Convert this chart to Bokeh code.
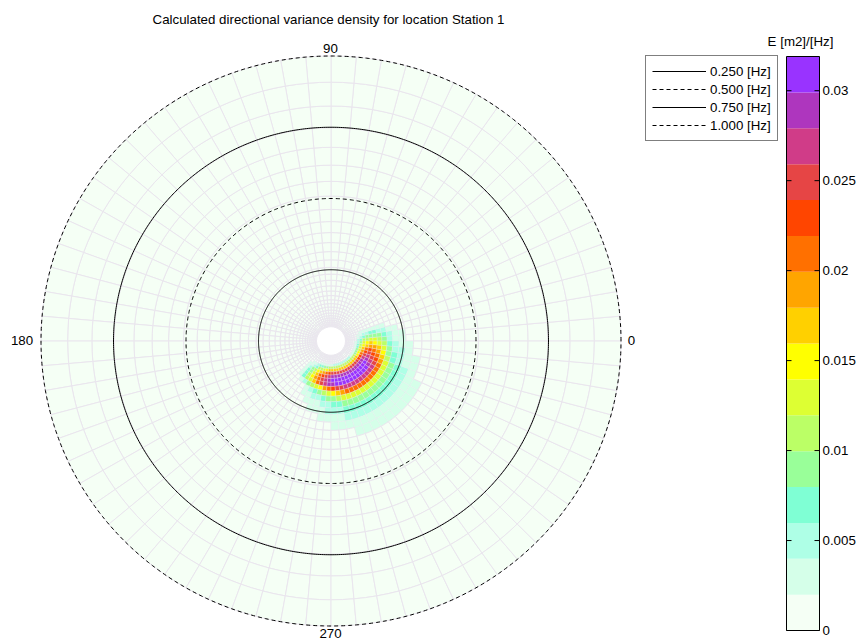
import numpy as np
from bokeh.plotting import figure
from bokeh.models import Range1d, Legend, LegendItem
from bokeh.embed import file_html
from bokeh.resources import INLINE
from bokeh.core.properties import value

# ---------------- data ----------------
TITLE = "Calculated directional variance density for location Station 1"
CB_TITLE = "E [m2]/[Hz]"

# frequency grid (Hz), cell edges
FREQ_EDGES = [0.0500, 0.0551, 0.0607, 0.0668, 0.0736, 0.0811, 0.0893, 0.0984,
              0.1083, 0.1193, 0.1314, 0.1448, 0.1595, 0.1756, 0.1935, 0.2131,
              0.2347, 0.2585, 0.2848, 0.3137, 0.3455, 0.3805, 0.4191, 0.4617,
              0.5085, 0.5601, 0.6170, 0.6796, 0.7485, 0.8245, 0.9081, 1.0000]
DIR_STEP = 5  # degrees (72 directional bins)

# energy density table, 1e-3 m2/Hz; rows = frequency cells 5..19,
# columns = direction bins starting at 220 deg, step 5 deg (32 bins: 220 .. 15)
TABLE_ROW_START = 5
TABLE_DIR_START = 220
E_TABLE = [
    [0.2, 0.5, 0.9, 1.3, 1.8, 2.3, 2.7, 3.1, 3.4, 3.7, 3.8, 4.0, 4.0, 4.0, 4.0, 4.0,
     4.0, 4.0, 4.0, 4.0, 3.9, 3.8, 3.6, 3.4, 3.1, 2.8, 2.4, 2.0, 1.6, 1.2, 0.8, 0.5],
    [0.7, 1.3, 2.4, 3.6, 5.0, 6.3, 7.5, 8.6, 9.5, 10.1, 10.6, 10.9, 11.0, 11.0, 11.0, 11.0,
     11.0, 11.0, 11.0, 11.0, 10.8, 10.5, 9.9, 9.2, 8.5, 7.6, 6.6, 5.5, 4.4, 3.3, 2.2, 1.3],
    [1.1, 2.1, 3.9, 5.8, 7.9, 10.0, 11.9, 13.7, 15.1, 16.1, 16.8, 17.3, 17.5, 17.5, 17.5, 17.5,
     17.5, 17.5, 17.5, 17.5, 17.2, 16.6, 15.8, 14.7, 13.5, 12.1, 10.5, 8.8, 7.0, 5.3, 3.5, 2.1],
    [1.5, 3.0, 5.5, 8.3, 11.3, 14.3, 17.0, 19.5, 21.5, 23.0, 24.0, 24.8, 25.0, 25.0, 25.0, 25.0,
     25.0, 25.0, 25.0, 25.0, 24.5, 23.8, 22.5, 21.0, 19.3, 17.3, 15.0, 12.5, 10.0, 7.5, 5.0, 3.0],
    [1.8, 3.5, 6.5, 9.7, 13.3, 16.8, 20.1, 23.0, 25.4, 27.1, 28.3, 29.2, 29.5, 29.5, 29.5, 29.5,
     29.5, 29.5, 29.5, 29.5, 28.9, 28.0, 26.6, 24.8, 22.7, 20.4, 17.7, 14.8, 11.8, 8.9, 5.9, 3.5],
    [1.9, 3.8, 7.0, 10.5, 14.4, 18.2, 21.7, 24.9, 27.4, 29.3, 30.6, 31.6, 31.7, 31.8, 31.9, 31.9,
     31.9, 31.8, 31.8, 31.7, 31.3, 30.3, 28.7, 26.8, 24.6, 22.0, 19.1, 16.0, 12.8, 9.6, 6.4, 3.8],
    [1.8, 3.7, 6.8, 10.2, 13.9, 17.6, 20.9, 24.0, 26.5, 28.3, 29.6, 30.5, 30.8, 30.8, 30.8, 30.8,
     30.8, 30.8, 30.8, 30.8, 30.2, 29.3, 27.7, 25.9, 23.7, 21.3, 18.5, 15.4, 12.3, 9.2, 6.2, 3.7],
    [0.8, 1.6, 3.6, 5.7, 8.1, 10.7, 13.2, 15.9, 18.4, 20.5, 22.7, 24.4, 25.7, 26.5, 27.0, 27.0,
     27.0, 27.0, 27.0, 27.0, 26.7, 26.1, 25.0, 23.5, 21.5, 19.0, 16.2, 13.8, 11.1, 8.4, 5.7, 3.0],
    [0.0, 0.0, 1.1, 1.9, 3.2, 4.6, 6.3, 8.4, 10.5, 12.6, 15.1, 17.2, 18.9, 20.2, 21.0, 21.0,
     21.0, 21.0, 21.0, 21.0, 21.0, 20.6, 20.0, 18.9, 17.2, 15.1, 12.6, 10.9, 8.8, 6.7, 4.6, 2.1],
    [0.0, 0.0, 0.7, 1.2, 2.0, 3.0, 4.1, 5.4, 6.8, 8.1, 9.7, 11.1, 12.2, 13.0, 13.5, 13.5,
     13.5, 13.5, 13.5, 13.5, 13.5, 13.2, 12.8, 12.2, 11.1, 9.7, 8.1, 7.0, 5.7, 4.3, 3.0, 1.4],
    [0.0, 0.0, 0.5, 0.8, 1.4, 2.0, 2.7, 3.6, 4.5, 5.4, 6.5, 7.4, 8.1, 8.6, 9.0, 9.0,
     9.0, 9.0, 9.0, 9.0, 9.0, 8.8, 8.6, 8.1, 7.4, 6.5, 5.4, 4.7, 3.8, 2.9, 2.0, 0.9],
    [0.0, 0.0, 0.4, 0.6, 1.1, 1.5, 2.1, 2.8, 3.5, 4.2, 5.0, 5.7, 6.3, 6.7, 7.0, 7.0,
     7.0, 7.0, 7.0, 7.0, 7.0, 6.9, 6.7, 6.3, 5.7, 5.0, 4.2, 3.6, 2.9, 2.2, 1.5, 0.7],
    [0.0, 0.0, 0.2, 0.4, 0.7, 1.0, 1.4, 1.8, 2.3, 2.7, 3.2, 3.7, 4.1, 4.3, 4.5, 4.5,
     4.5, 4.5, 4.5, 4.5, 4.5, 4.4, 4.3, 4.1, 3.7, 3.2, 2.7, 2.3, 1.9, 1.4, 1.0, 0.5],
    [0.0, 0.0, 0.2, 0.3, 0.5, 0.7, 1.0, 1.3, 1.6, 1.9, 2.3, 2.6, 2.9, 3.1, 3.2, 3.2,
     3.2, 3.2, 3.2, 3.2, 3.2, 3.1, 3.0, 2.9, 2.6, 2.3, 1.9, 1.7, 1.3, 1.0, 0.7, 0.3],
    [0.0, 0.0, 0.1, 0.2, 0.3, 0.5, 0.6, 0.8, 1.1, 1.3, 1.5, 1.7, 1.9, 2.0, 2.1, 2.1,
     2.1, 2.1, 2.1, 2.1, 2.1, 2.1, 2.0, 1.9, 1.7, 1.5, 1.3, 1.1, 0.9, 0.7, 0.5, 0.2],
]
E_MAX = 0.0319
LEVEL_COLORS = ["#F5FFF5", "#D5FFE9", "#AEFFE6", "#7FFFD4", "#99FF99", "#BBFF66",
                "#DDFF33", "#FFFF00", "#FFD000", "#FFA500", "#FF7000", "#FF4500",
                "#E64545", "#D03C88", "#AE36BE", "#9933FF"]

CIRCLE_FREQS = [0.25, 0.5, 0.75, 1.0]
CIRCLE_DASH = ["solid", "4 3", "solid", "4 3"]
CIRCLE_LABELS = ["0.250 [Hz]", "0.500 [Hz]", "0.750 [Hz]", "1.000 [Hz]"]
ANGLE_LABELS = ["0", "90", "180", "270"]
CB_TICKS = [0.0, 0.005, 0.01, 0.015, 0.02, 0.025, 0.03]
CB_TICK_LABELS = ["0", "0.005", "0.01", "0.015", "0.02", "0.025", "0.03"]

# ---------------- layout ----------------
W, H = 857, 641
CX, CY = 330.5, 340.5      # polar centre in px (from top-left)
SX, SY = 290.0, 285.0      # px per Hz
FONT = value("Liberation Sans")
FS = value("13.3px")

p = figure(width=W, height=H, output_backend="svg", toolbar_location=None,
           x_range=Range1d(-CX / SX, (W - CX) / SX),
           y_range=Range1d(-(H - CY) / SY, CY / SY),
           min_border=0, x_axis_location=None, y_axis_location=None)
p.grid.visible = False
p.outline_line_color = None
p.background_fill_color = "white"
p.border_fill_color = "white"

CB_BOT, CB_TOP = 630.0, 56.0   # px (from top) of 0 and E_MAX
ppu = (CB_BOT - CB_TOP) / E_MAX
p.extra_x_ranges = {"px": Range1d(0, W)}
p.extra_y_ranges = {"py": Range1d(H, 0),
                    "cb": Range1d(-(H - CB_BOT) / ppu, CB_BOT / ppu)}

# ---------------- spectrum cells ----------------
n_f = len(FREQ_EDGES) - 1
n_d = 360 // DIR_STEP
E = np.zeros((n_f, n_d))
for r, row in enumerate(E_TABLE):
    for c, v in enumerate(row):
        j = ((TABLE_DIR_START + DIR_STEP * c) % 360) // DIR_STEP
        E[TABLE_ROW_START + r, j] = v * 1e-3

xs, ys, cols, lalpha = [], [], [], []
for i in range(n_f):
    f0, f1 = FREQ_EDGES[i], FREQ_EDGES[i + 1]
    for j in range(n_d):
        a = np.radians([DIR_STEP * j, DIR_STEP * j + DIR_STEP / 2, DIR_STEP * (j + 1)])
        x = list(f0 * np.cos(a)) + list(f1 * np.cos(a[::-1]))
        y = list(f0 * np.sin(a)) + list(f1 * np.sin(a[::-1]))
        xs.append(x)
        ys.append(y)
        lev = min(int(E[i, j] / (E_MAX / 16)), 15)
        cols.append(LEVEL_COLORS[lev])
        lalpha.append(1.0 if lev == 0 else 0.3)

p.patches(xs, ys, fill_color=cols, line_color="#EAE6EE", line_alpha=lalpha,
          line_width=1)

# ---------------- frequency circles ----------------
th = np.linspace(0, 2 * np.pi, 721)
items = []
for f, d, lab in zip(CIRCLE_FREQS, CIRCLE_DASH, CIRCLE_LABELS):
    rr = p.line(f * np.cos(th), f * np.sin(th), line_color="black", line_width=1,
                line_dash=d)
    items.append(LegendItem(label=lab, renderers=[rr]))

legend = Legend(items=items, location=(645, 500), padding=6, spacing=0, margin=0,
                glyph_width=54, glyph_height=18, label_height=18, label_standoff=4,
                label_text_font="Liberation Sans", label_text_font_size="13.3px",
                label_text_color="black", border_line_color="black",
                border_line_width=1, background_fill_color="white",
                background_fill_alpha=1.0)
p.add_layout(legend)

# ---------------- labels ----------------
p.text(x=[328], y=[19], text=[TITLE], x_range_name="px", y_range_name="py",
       text_font=FONT, text_font_size=FS, text_align="center",
       text_baseline="middle", text_color="black")
p.text(x=[631, 330, 21.5, 330], y=[340, 47.5, 340, 633], text=ANGLE_LABELS,
       x_range_name="px", y_range_name="py", text_font=FONT, text_font_size=FS,
       text_align="center", text_baseline="middle", text_color="black")

# ---------------- colour bar ----------------
CBL, CBR = 786.0, 819.0
lev_edges = [k * E_MAX / 16 for k in range(17)]
p.quad(left=CBL, right=CBR, bottom=lev_edges[:-1], top=lev_edges[1:],
       fill_color=LEVEL_COLORS, line_color=None, x_range_name="px", y_range_name="cb")
p.quad(left=[CBL], right=[CBR], bottom=[0], top=[E_MAX], fill_color=None,
       line_color="black", line_width=1, x_range_name="px", y_range_name="cb")
p.segment(x0=[CBL] * len(CB_TICKS), x1=[CBL + 5] * len(CB_TICKS), y0=CB_TICKS,
          y1=CB_TICKS, line_color="black", x_range_name="px", y_range_name="cb")
p.segment(x0=[CBR - 5] * len(CB_TICKS), x1=[CBR] * len(CB_TICKS), y0=CB_TICKS,
          y1=CB_TICKS, line_color="black", x_range_name="px", y_range_name="cb")
p.text(x=[CBR + 3] * len(CB_TICKS), y=CB_TICKS, text=CB_TICK_LABELS,
       x_range_name="px", y_range_name="cb", text_font=FONT, text_font_size=FS,
       text_align="left", text_baseline="middle", text_color="black")
p.text(x=[800], y=[41], text=[CB_TITLE], x_range_name="px", y_range_name="py",
       text_font=FONT, text_font_size=FS, text_align="center",
       text_baseline="middle", text_color="black")

open("out.html", "w").write(file_html(p, INLINE))
